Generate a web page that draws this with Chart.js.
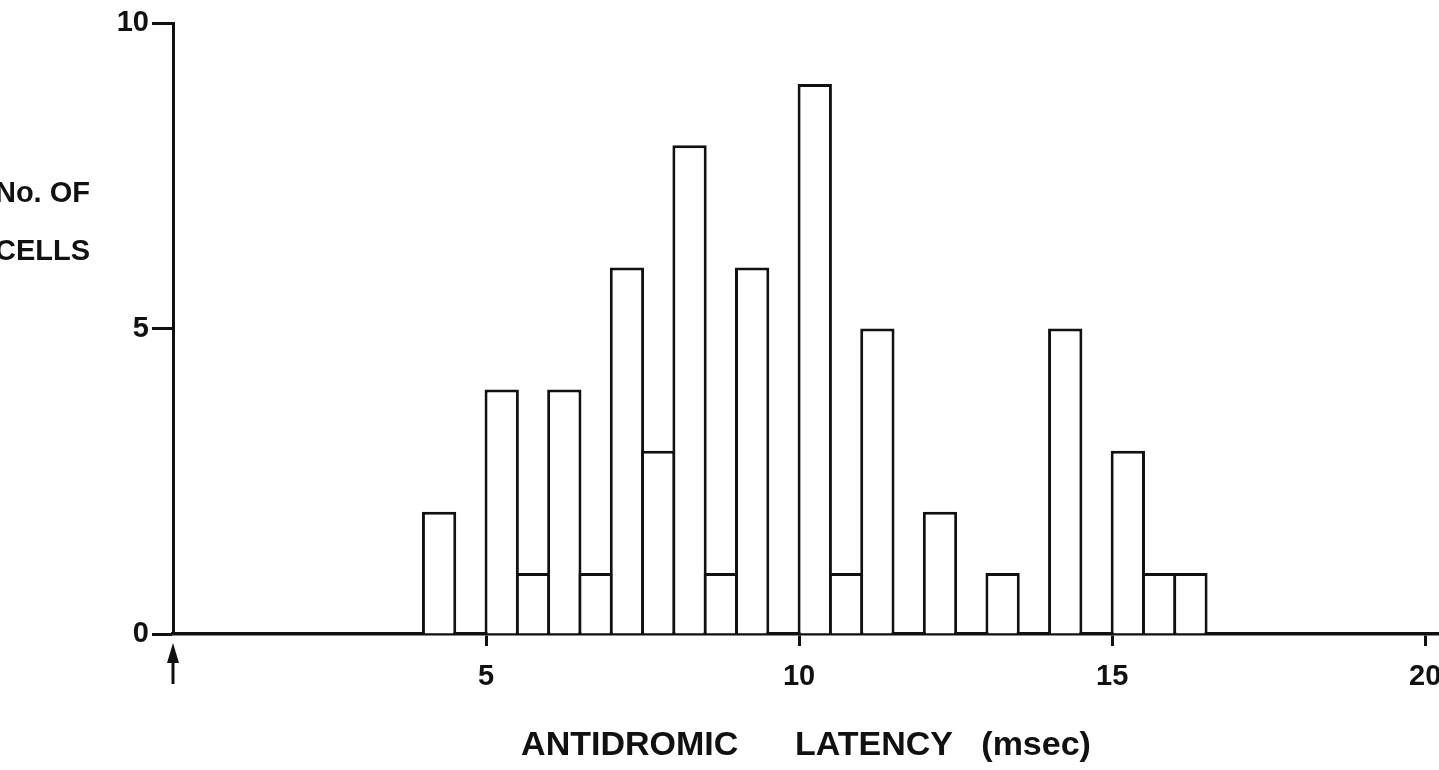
<!DOCTYPE html>
<html>
<head>
<meta charset="utf-8">
<script src="https://cdn.jsdelivr.net/npm/chart.js@4"></script>
<style>
  html, body { margin: 0; padding: 0; background: #fff; overflow: hidden; }
</style>
</head>
<body>
<canvas id="histChart" width="1439" height="770"></canvas>
<script>
/**************************************
 * ANTIDROMIC LATENCY HISTOGRAM
 **************************************/

/* ---------- DATA ---------- */
const binStarts = [4, 5, 5.5, 6, 6.5, 7, 7.5, 8, 8.5, 9, 10, 10.5, 11, 12, 13, 14, 15, 15.5, 16];
const cellCounts = [2, 4, 1, 4, 1, 6, 3, 8, 1, 6, 9, 1, 5, 2, 1, 5, 3, 1, 1];
const binWidth = 0.5;
const xTicks = [5, 10, 15, 20];
const yTicks = [0, 5, 10];
const yTitle = ["No. OF", "CELLS"];
const xTitle = "ANTIDROMIC      LATENCY   (msec)";

/* ---------- STYLE ---------- */
const INK = "#111";
const FONT = "'Liberation Sans', Arial, sans-serif";

Chart.defaults.font.family = FONT;
Chart.defaults.color = INK;

/* ---------- EXTRAS (arrow at origin + y title) ---------- */
const extrasPlugin = {
  id: "extras",
  afterDraw(chart) {
    const { ctx, scales: { x, y } } = chart;
    const px = x.getPixelForValue(0);
    const base = y.getPixelForValue(0);

    ctx.save();
    ctx.fillStyle = INK;
    ctx.strokeStyle = INK;

    // little arrow under the origin
    ctx.lineWidth = 3;
    ctx.beginPath();
    ctx.moveTo(px, base + 24);
    ctx.lineTo(px, base + 50);
    ctx.stroke();
    ctx.beginPath();
    ctx.moveTo(px, base + 9);
    ctx.lineTo(px - 6, base + 29);
    ctx.lineTo(px + 6, base + 29);
    ctx.closePath();
    ctx.fill();

    // y axis title, two lines
    ctx.font = "bold 29px " + FONT;
    ctx.textAlign = "right";
    ctx.textBaseline = "middle";
    ctx.fillText(yTitle[0], 90, 194);
    ctx.fillText(yTitle[1], 90, 252);
    ctx.restore();
  }
};

/* ---------- CHART ---------- */
const points = binStarts.map((s, i) => ({ x: s + binWidth / 2, y: cellCounts[i] }));

new Chart(document.getElementById("histChart").getContext("2d"), {
  type: "bar",
  data: {
    datasets: [{
      data: points,
      backgroundColor: "#fff",
      borderColor: INK,
      borderWidth: 3,
      borderSkipped: "start",
      categoryPercentage: 1,
      barPercentage: 1.096
    }]
  },
  options: {
    responsive: false,
    animation: false,
    devicePixelRatio: 1,
    layout: { padding: { top: 23, left: 0, right: 0, bottom: 0 } },
    plugins: {
      legend: { display: false },
      tooltip: { enabled: false }
    },
    scales: {
      x: {
        type: "linear",
        offset: false,
        min: 0,
        max: 20.22,
        afterBuildTicks: s => { s.ticks = xTicks.map(v => ({ value: v })); },
        afterFit: s => { s.height = 136; s.paddingLeft = 0; s.paddingRight = 0; },
        border: { color: INK, width: 3.5 },
        grid: { offset: false, drawOnChartArea: false, tickLength: 12, tickWidth: 3, tickColor: INK },
        ticks: {
          color: INK,
          font: { size: 29, weight: "bold" },
          padding: 14,
          maxRotation: 0,
          autoSkip: false
        },
        title: {
          display: true,
          text: xTitle,
          color: INK,
          font: { size: 34, weight: "bold" },
          padding: { top: 4, bottom: 4 }
        }
      },
      y: {
        min: 0,
        max: 10,
        afterBuildTicks: s => { s.ticks = yTicks.map(v => ({ value: v })); },
        afterFit: s => { s.width = 173; s.paddingTop = 0; s.paddingBottom = 0; },
        border: { color: INK, width: 3 },
        grid: { drawOnChartArea: false, tickLength: 21, tickWidth: 3, tickColor: INK },
        ticks: {
          color: INK,
          font: { size: 29, weight: "bold" },
          padding: 3
        }
      }
    }
  },
  plugins: [extrasPlugin]
});
</script>
</body>
</html>
